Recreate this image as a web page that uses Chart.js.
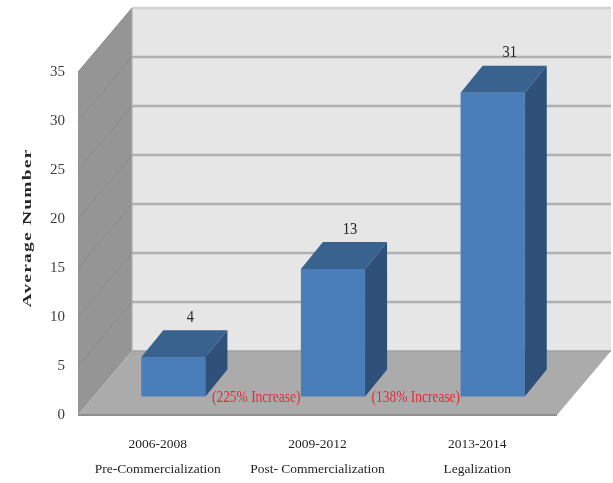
<!DOCTYPE html>
<html>
<head>
<meta charset="utf-8">
<script src="https://cdn.jsdelivr.net/npm/chart.js@4"></script>
<style>
  html, body { margin: 0; padding: 0; background: #fff; }
  #wrap { width: 613px; height: 483px; }
  canvas { filter: blur(0.4px); }
</style>
</head>
<body>
<div id="wrap"><canvas id="chart" width="613" height="483"></canvas></div>
<script>
const periods = ["2006-2008", "2009-2012", "2013-2014"];
const stages = ["Pre-Commercialization", "Post- Commercialization", "Legalization"];
const averages = [4, 13, 31];
const increases = ["(225% Increase)", "(138% Increase)"];
const yTitle = "Average Number";

// depth of the box and of the bars, in px
const boxDx = 54, boxDy = -64;
const barShiftX = 15.5, barShiftY = -18.5;
const barDx = 22, barDy = -27;

function poly(ctx, pts, fill) {
  ctx.beginPath();
  pts.forEach((p, i) => i ? ctx.lineTo(p[0], p[1]) : ctx.moveTo(p[0], p[1]));
  ctx.closePath();
  ctx.fillStyle = fill;
  ctx.fill();
}

function line(ctx, x1, y1, x2, y2, color, width) {
  ctx.beginPath();
  ctx.moveTo(x1, y1);
  ctx.lineTo(x2, y2);
  ctx.strokeStyle = color;
  ctx.lineWidth = width;
  ctx.stroke();
}

// text squeezed sideways, the source picture was resized
function tallText(ctx, txt, x, y, squeeze) {
  ctx.save();
  ctx.translate(x, y);
  ctx.scale(squeeze, 1);
  ctx.fillText(txt, 0, 0);
  ctx.restore();
}

const box3d = {
  id: "box3d",
  beforeDatasetsDraw(chart) {
    const { ctx, chartArea: a, scales: { y } } = chart;
    const top = y.getPixelForValue(35), bot = y.getPixelForValue(0);
    ctx.save();
    // back wall, side wall, floor
    poly(ctx, [[a.left + boxDx, top + boxDy], [a.right + boxDx, top + boxDy], [a.right + boxDx, bot + boxDy], [a.left + boxDx, bot + boxDy]], "#e6e6e6");
    poly(ctx, [[a.left, top], [a.left + boxDx, top + boxDy], [a.left + boxDx, bot + boxDy], [a.left, bot]], "#959595");
    poly(ctx, [[a.left, bot], [a.right, bot], [a.right + boxDx, bot + boxDy], [a.left + boxDx, bot + boxDy]], "#ababab");

    // gridlines run up the side wall and across the back
    y.ticks.forEach(t => {
      const p = y.getPixelForValue(t.value);
      if (t.value > 0) {
        line(ctx, a.left, p, a.left + boxDx, p + boxDy, "#8b8b8b", 1);
        line(ctx, a.left + boxDx, p + boxDy, a.right + boxDx, p + boxDy, t.value === 35 ? "#d2d2d2" : "#b0b0b0", 2.4);
      }
    });
    line(ctx, a.left + boxDx, bot + boxDy, a.right + boxDx, bot + boxDy, "#a0a0a0", 1.5);
    line(ctx, a.left + boxDx, top + boxDy, a.left + boxDx, bot + boxDy, "#a8a8a8", 1);
    line(ctx, a.left, bot, a.right, bot, "#8e8e8e", 2);

    // axis title, stretched along its length like the source
    ctx.translate(28, 228);
    ctx.rotate(-Math.PI / 2);
    ctx.scale(1.5, 1);
    ctx.letterSpacing = "0.8px";
    ctx.font = "bold 13px 'Liberation Serif'";
    ctx.fillStyle = "#262626";
    ctx.textAlign = "center";
    ctx.textBaseline = "middle";
    ctx.fillText(yTitle, 0, 0);
    ctx.restore();

    // bars stand further back on the floor
    ctx.save();
    ctx.translate(barShiftX, barShiftY);
  },
  afterDatasetsDraw(chart) {
    const { ctx, scales: { x, y } } = chart;
    chart.getDatasetMeta(0).data.forEach(bar => {
      const w = bar.width / 2;
      const l = bar.x - w, r = bar.x + w;
      poly(ctx, [[l, bar.y], [r, bar.y], [r + barDx, bar.y + barDy], [l + barDx, bar.y + barDy]], "#39628f");
      poly(ctx, [[r, bar.y], [r + barDx, bar.y + barDy], [r + barDx, bar.base + barDy], [r, bar.base]], "#2e5079");
    });
    ctx.restore();

    ctx.save();
    ctx.textAlign = "center";
    ctx.textBaseline = "middle";
    ctx.font = "17px 'Liberation Serif'";
    ctx.fillStyle = "#222";
    chart.getDatasetMeta(0).data.forEach((bar, i) => {
      tallText(ctx, averages[i], bar.x + barShiftX + 17, bar.y + barShiftY - 40, 0.85);
    });

    ctx.fillStyle = "#e8283a";
    ctx.font = "16px 'Liberation Serif'";
    increases.forEach((txt, i) => {
      const mid = (x.getPixelForValue(i) + x.getPixelForValue(i + 1)) / 2;
      tallText(ctx, txt, mid + 18.5, y.getPixelForValue(0) - 17, 0.84);
    });
    ctx.restore();
  }
};

new Chart(document.getElementById("chart"), {
  type: "bar",
  data: {
    labels: periods.map((p, i) => [p, stages[i]]),
    datasets: [{
      data: averages,
      backgroundColor: "#4a7ebb",
      borderWidth: 0,
      categoryPercentage: 1,
      barPercentage: 0.402,
      clip: false
    }]
  },
  options: {
    responsive: false,
    animation: false,
    layout: { padding: { top: 72, right: 56, left: 0, bottom: 0 } },
    plugins: { legend: { display: false }, tooltip: { enabled: false } },
    scales: {
      x: {
        grid: { display: false },
        border: { display: false },
        afterFit(s) { s.height = 68; },
        ticks: {
          padding: 8,
          maxRotation: 0,
          color: "#1f1f1f",
          font: { family: "'Liberation Serif'", size: 13.5, lineHeight: 1.92 }
        }
      },
      y: {
        min: 0,
        max: 35,
        grid: { display: false },
        border: { display: false },
        afterFit(s) { s.width = 78; },
        ticks: {
          stepSize: 5,
          padding: 5,
          color: "#3c3c3c",
          font: { family: "'Liberation Serif'", size: 15 }
        }
      }
    }
  },
  plugins: [box3d]
});
</script>
</body>
</html>
